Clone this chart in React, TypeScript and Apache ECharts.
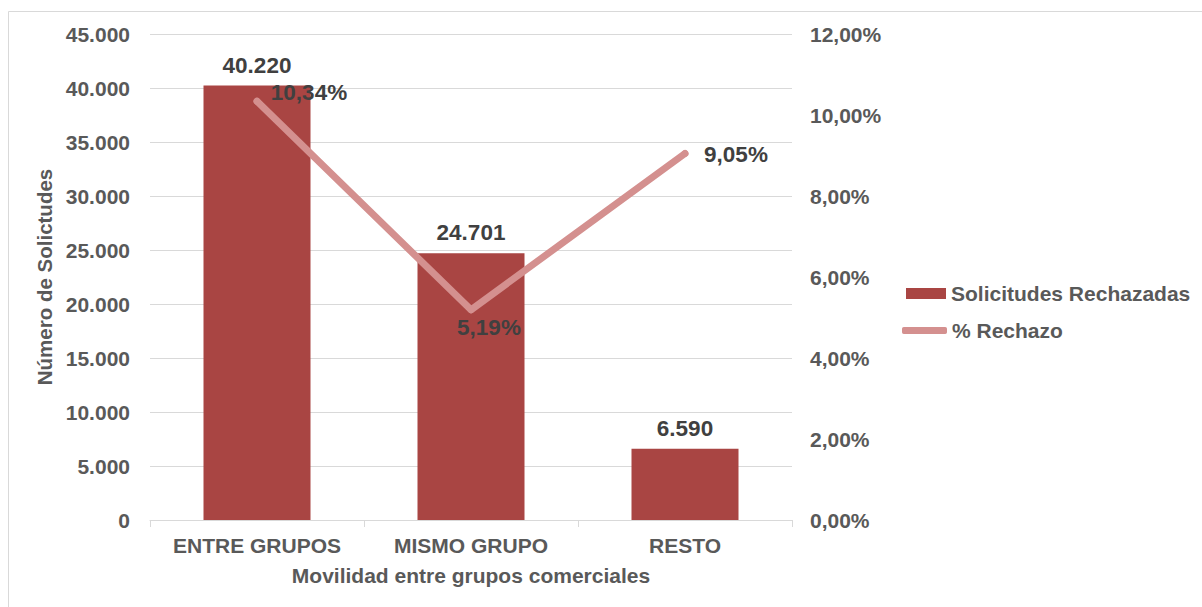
import React, { useEffect, useRef } from "react";
import * as echarts from "echarts";

const categories = ["ENTRE GRUPOS", "MISMO GRUPO", "RESTO"];
const rejected = [40220, 24701, 6590];
const rejectPct = [10.34, 5.19, 9.05];
const leftTicks = { min: 0, max: 45000, interval: 5000 };
const rightTicks = { min: 0, max: 12, interval: 2 };
const pctLabelOffsets: [number, number][] = [
  [52, -9],
  [18, 18],
  [51, 1],
];

const FONT = '"Liberation Sans", Arial, sans-serif';
const GREY = "#595959";
const DARK = "#404040";
const BAR = "#a94543";
const LINE = "#d4908f";

const thousands = (v: number) =>
  String(Math.round(v)).replace(/\B(?=(\d{3})+(?!\d))/g, ".");
const pct = (v: number) => v.toFixed(2).replace(".", ",") + "%";

export default function App() {
  const ref = useRef<HTMLDivElement>(null);
  useEffect(() => {
    if (!ref.current) return;
    const chart = echarts.init(ref.current, null, { renderer: "svg" });
    chart.setOption({
      animation: false,
      backgroundColor: "#ffffff",
      textStyle: { fontFamily: FONT },
      graphic: [
        {
          type: "rect",
          shape: { x: 8.5, y: 11.5, width: 1200, height: 600 },
          style: { fill: "none", stroke: "#d9d9d9", lineWidth: 1 },
          silent: true,
          z: -10,
        },
      ],
      grid: { left: 150, right: 410, top: 34, bottom: 87, containLabel: false },
      legend: [
        {
          data: [{ name: "Solicitudes Rechazadas", icon: "rect" }],
          left: 906,
          top: 283,
          padding: 0,
          itemWidth: 40,
          itemHeight: 11,
          textStyle: { fontFamily: FONT, fontSize: 21, fontWeight: "bold", color: GREY },
        },
        {
          data: [{ name: "% Rechazo", icon: "roundRect" }],
          left: 902,
          top: 320,
          padding: 0,
          itemWidth: 45,
          itemHeight: 7,
          textStyle: { fontFamily: FONT, fontSize: 21, fontWeight: "bold", color: GREY },
        },
      ],
      xAxis: {
        type: "category",
        data: categories,
        name: "Movilidad entre grupos comerciales",
        nameLocation: "middle",
        nameGap: 45,
        nameTextStyle: { fontFamily: FONT, fontSize: 21, fontWeight: "bold", color: GREY },
        axisLine: { lineStyle: { color: "#d9d9d9", width: 1 } },
        axisTick: { show: true, length: 7, lineStyle: { color: "#d9d9d9" } },
        axisLabel: {
          interval: 0,
          hideOverlap: false,
          margin: 15,
          fontFamily: FONT,
          fontSize: 21,
          fontWeight: "bold",
          color: GREY,
        },
      },
      yAxis: [
        {
          type: "value",
          min: leftTicks.min,
          max: leftTicks.max,
          interval: leftTicks.interval,
          name: "Número de Solictudes",
          nameLocation: "middle",
          nameGap: 93,
          nameTextStyle: { fontFamily: FONT, fontSize: 20.5, fontWeight: "bold", color: GREY },
          axisLine: { show: false },
          axisTick: { show: false },
          splitLine: { lineStyle: { color: "#d9d9d9", width: 1 } },
          axisLabel: {
            margin: 20,
            fontFamily: FONT,
            fontSize: 21,
            fontWeight: "bold",
            color: GREY,
            formatter: (v: number) => thousands(v),
          },
        },
        {
          type: "value",
          min: rightTicks.min,
          max: rightTicks.max,
          interval: rightTicks.interval,
          position: "right",
          axisLine: { show: false },
          axisTick: { show: false },
          splitLine: { show: false },
          axisLabel: {
            margin: 18,
            fontFamily: FONT,
            fontSize: 21,
            fontWeight: "bold",
            color: GREY,
            formatter: (v: number) => pct(v),
          },
        },
      ],
      series: [
        {
          name: "Solicitudes Rechazadas",
          type: "bar",
          yAxisIndex: 0,
          data: rejected,
          barWidth: "50%",
          itemStyle: { color: BAR },
          label: {
            show: true,
            position: "top",
            distance: 9,
            fontFamily: FONT,
            fontSize: 22.5,
            fontWeight: "bold",
            color: DARK,
            formatter: (p: any) => thousands(p.value),
          },
          z: 2,
        },
        {
          name: "% Rechazo",
          type: "line",
          yAxisIndex: 1,
          data: rejectPct.map((v, i) => ({
            value: v,
            label: { offset: pctLabelOffsets[i] },
          })),
          symbol: "circle",
          symbolSize: 7,
          showSymbol: true,
          itemStyle: { color: LINE },
          lineStyle: { color: LINE, width: 7, cap: "round", join: "round" },
          label: {
            show: true,
            position: "inside",
            fontFamily: FONT,
            fontSize: 22.5,
            fontWeight: "bold",
            color: DARK,
            formatter: (p: any) => pct(p.value),
          },
          z: 3,
        },
      ],
    });
    return () => chart.dispose();
  }, []);
  return (
    <div
      ref={ref}
      style={{ position: "fixed", left: 0, top: 0, width: 1202, height: 607 }}
    />
  );
}
